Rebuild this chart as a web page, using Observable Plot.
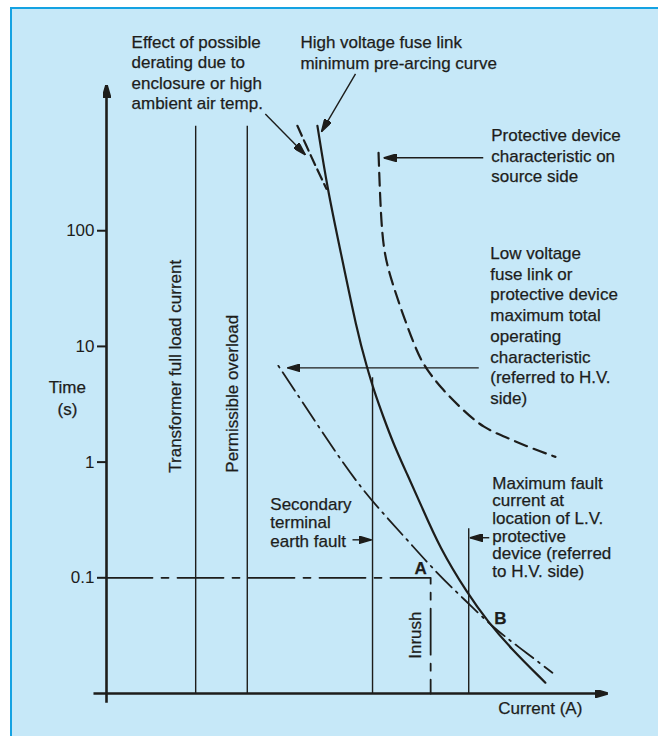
<!DOCTYPE html>
<html>
<head>
<meta charset="utf-8">
<script src="https://cdn.jsdelivr.net/npm/d3@7"></script>
<script src="https://cdn.jsdelivr.net/npm/@observablehq/plot@0.6"></script>
<style>
  html, body { margin: 0; padding: 0; background: #ffffff; }
  #wrap { position: relative; width: 658px; height: 736px; overflow: hidden; }
  #panel { position: absolute; left: 10px; top: 7px; width: 660px; height: 740px;
           background: #c6e8f8; border-left: 2px solid #14a2e2; border-top: 2px solid #14a2e2;
           box-sizing: border-box; }
  #chart { position: absolute; left: 0; top: 0; }
</style>
</head>
<body>
<div id="wrap"><div id="panel"></div><div id="chart"></div></div>
<script>
// ---------- data (current in arbitrary units, time in seconds) ----------
const yTicks = [0.1, 1, 10, 100];

// High voltage fuse link minimum pre-arcing curve (solid)
const hvFuseX = [42.1, 44.1, 46.7, 50.0, 52.0, 53.4, 55.3, 57.3, 60.0, 62.7, 66.5, 72.1, 76.0, 80.6, 87.6];
const hvFuseT = [807, 230, 67, 13.6, 6.57, 4.13, 2.43, 1.43, 0.787, 0.434, 0.1816, 0.0727, 0.0425, 0.0248, 0.0124];

// Derated HV fuse curve (dashed, top)
const deratedX = [38.1, 40.9, 43.9];
const deratedT = [807, 435, 230];

// Protective device characteristic on source side (dashed)
const sourceX = [54.3, 54.7, 55.3, 56.7, 59.1, 62.1, 63.7, 66.7, 71.3, 75.2, 80.0, 84.6, 89.6];
const sourceT = [471, 149, 67, 39.2, 19.1, 8.63, 6.53, 4.39, 2.77, 1.98, 1.62, 1.33, 1.11];

// Low voltage fuse link max total operating characteristic (dash-dot)
const lvFuseX = [34.3, 38.7, 46.3, 51.3, 55.3, 60.7, 66.1, 71.3, 77.2, 82.0, 89.0];
const lvFuseT = [6.79, 3.52, 1.11, 0.565, 0.357, 0.197, 0.108, 0.0658, 0.037, 0.0258, 0.0151];

// Vertical current levels
const levelNames = ["Transformer full load current", "Permissible overload", "Secondary terminal earth fault", "Maximum fault current"];
const levelX = [17.8, 28.1, 53.1, 72.3];
const levelTopT = [800, 800, 5.35, 0.265];

// Inrush point A
const inrushX = 64.7;
const inrushT = 0.1;

// Annotation pointers
const pointerFromX = [31.7, 49.7, 75.2, 74.3, 49.1, 76.4];
const pointerFromT = [1023, 2270, 427, 6.53, 0.213, 0.222];
const pointerToX = [39.7, 42.9, 55.3, 36.1, 52.9, 72.5];
const pointerToT = [453, 716, 427, 6.53, 0.213, 0.222];

// Text notes
const noteDerating = "Effect of possible\nderating due to\nenclosure or high\nambient air temp.";
const noteHv = "High voltage fuse link\nminimum pre-arcing curve";
const noteSource = "Protective device\ncharacteristic on\nsource side";
const noteLv = "Low voltage\nfuse link or\nprotective device\nmaximum total\noperating\ncharacteristic\n(referred to H.V.\nside)";
const noteMaxFault = "Maximum fault\ncurrent at\nlocation of L.V.\nprotective\ndevice (referred\nto H.V. side)";
const noteEarth = "Secondary\nterminal\nearth fault";
const yLabel = "Time\n(s)";
const xLabel = "Current (A)";

// ---------- build ----------
const ink = "#1d1d1b";
const pts = (xs, ts) => xs.map((x, i) => ({x, t: ts[i]}));
const levels = levelX.map((x, i) => ({name: levelNames[i], x, top: levelTopT[i]}));
const pointers = pointerFromX.map((x, i) => ({x1: x, t1: pointerFromT[i], x2: pointerToX[i], t2: pointerToT[i]}));

function head(color) {
  const ns = "http://www.w3.org/2000/svg";
  const m = document.createElementNS(ns, "marker");
  m.setAttribute("viewBox", "-13 -4 13 8");
  m.setAttribute("refX", "0");
  m.setAttribute("refY", "0");
  m.setAttribute("markerWidth", "13");
  m.setAttribute("markerHeight", "8");
  m.setAttribute("markerUnits", "userSpaceOnUse");
  m.setAttribute("orient", "auto");
  const p = document.createElementNS(ns, "path");
  p.setAttribute("d", "M-13,-3.8L0,0L-13,3.8Z");
  p.setAttribute("fill", color);
  m.appendChild(p);
  return m;
}

const fs = 17;
const textStyle = {fontSize: fs, fill: ink, stroke: ink, strokeWidth: 0.25};
const note = (text, x, t, lh, extra = {}) =>
  Plot.text([text], {x: () => x, y: () => t, text: d => d, textAnchor: "start", lineAnchor: "top",
    lineHeight: lh, ...textStyle, ...extra});

const svg = Plot.plot({
  width: 658,
  height: 736,
  marginLeft: 106,
  marginRight: 51,
  marginTop: 85,
  marginBottom: 43,
  x: {domain: [0, 100], axis: null},
  y: {type: "log", domain: [0.01, 1800]},
  style: {background: "transparent", fontFamily: "'Liberation Sans', Arial, Helvetica, sans-serif", color: ink, overflow: "visible"},
  marks: [
    // axes
    Plot.link([0], {x1: () => 0, y1: () => 0.0083, x2: () => 0, y2: () => 1820, stroke: ink, strokeWidth: 2.6, markerEnd: head}),
    Plot.link([0], {x1: () => -2.6, y1: () => 0.01, x2: () => 100, y2: () => 0.01, stroke: ink, strokeWidth: 2.6, markerEnd: head}),
    Plot.axisY({ticks: yTicks, tickFormat: d => `${d}`, tickSize: 9, tickPadding: 3, fontSize: fs, strokeWidth: 2, label: null}),
    // vertical levels
    Plot.ruleX(levels, {x: "x", y1: 0.01, y2: "top", stroke: ink, strokeWidth: 1.4}),
    // 0.1 s line and inrush
    Plot.line([{x: 0, t: inrushT}, {x: inrushX, t: inrushT}, {x: inrushX, t: 0.01}],
      {x: "x", y: "t", stroke: ink, strokeWidth: 1.8, strokeDasharray: "46,9,7,9"}),
    // curves
    Plot.line(pts(hvFuseX, hvFuseT), {x: "x", y: "t", curve: "basis", stroke: ink, strokeWidth: 2.2}),
    Plot.line(pts(deratedX, deratedT), {x: "x", y: "t", curve: "catmull-rom", stroke: ink, strokeWidth: 2.2, strokeDasharray: "11,5"}),
    Plot.line(pts(sourceX, sourceT), {x: "x", y: "t", curve: "basis", stroke: ink, strokeWidth: 2.2, strokeDasharray: "13,7"}),
    Plot.line(pts(lvFuseX, lvFuseT), {x: "x", y: "t", curve: "basis", stroke: ink, strokeWidth: 1.8, strokeDasharray: "2,6,22,6"}),
    // pointers
    Plot.link(pointers, {x1: "x1", y1: "t1", x2: "x2", y2: "t2", stroke: ink, strokeWidth: 1.4, markerEnd: head}),
    // notes
    note(noteDerating, 5.0, 5070, 1.2),
    note(noteHv, 38.7, 5080, 1.22),
    note(noteSource, 76.8, 802, 1.22),
    note(noteLv, 76.6, 76.6, 1.22),
    note(noteMaxFault, 77.0, 0.753, 1.035),
    note(noteEarth, 32.7, 0.502, 1.09),
    note(yLabel, -7.8, 5.42, 1.29, {textAnchor: "middle"}),
    Plot.text([xLabel], {x: () => 78.2, y: () => 0.00668, text: d => d, textAnchor: "start", lineAnchor: "bottom", ...textStyle}),
    Plot.text(["A"], {x: () => 62.7, y: () => 0.1083, text: d => d, textAnchor: "middle", lineAnchor: "bottom", ...textStyle, fontWeight: "bold"}),
    Plot.text(["B"], {x: () => 78.6, y: () => 0.04, text: d => d, textAnchor: "middle", lineAnchor: "bottom", ...textStyle, fontWeight: "bold"}),
    // rotated labels
    Plot.text([levelNames[0]], {x: () => 13.8, y: () => 0.81, text: d => d, rotate: -90, textAnchor: "start", lineAnchor: "middle", ...textStyle}),
    Plot.text([levelNames[1]], {x: () => 25.2, y: () => 0.81, text: d => d, rotate: -90, textAnchor: "start", lineAnchor: "middle", ...textStyle}),
    Plot.text(["Inrush"], {x: () => 61.7, y: () => 0.01995, text: d => d, rotate: -90, textAnchor: "start", lineAnchor: "middle", ...textStyle})
  ]
});
document.getElementById("chart").appendChild(svg);
</script>
</body>
</html>
